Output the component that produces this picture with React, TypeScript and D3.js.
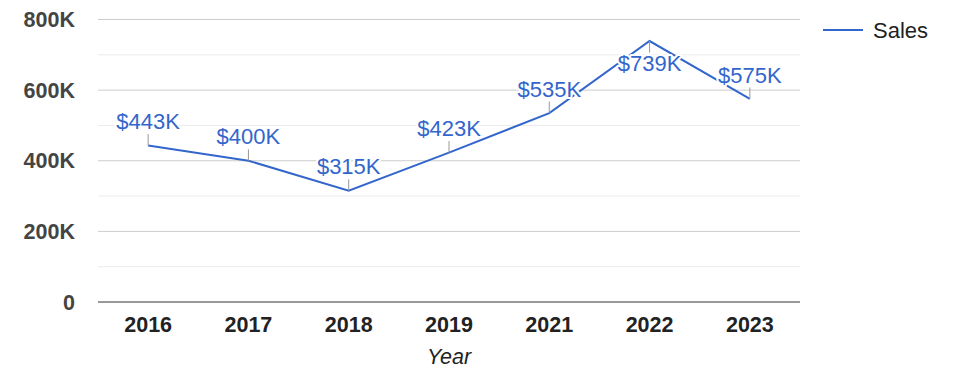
import React from "react";
import * as d3 from "d3";

const years = ["2016", "2017", "2018", "2019", "2021", "2022", "2023"];
const sales = [443000, 400000, 315000, 423000, 535000, 739000, 575000];
const yTicks = [0, 200000, 400000, 600000, 800000];
const yMinorTicks = [100000, 300000, 500000, 700000];
const seriesName = "Sales";
const xTitle = "Year";

const W = 975, H = 378;
const left = 98, right = 800, top = 19.5, bottom = 302;
const blue = "#3366cc";
const font = "'Liberation Sans', Arial, sans-serif";

export default function App() {
  const x = d3.scalePoint<string>().domain(years).range([left, right]).padding(0.5);
  const y = d3.scaleLinear().domain([0, 800000]).range([bottom, top]);
  const line = d3.line<number>().x((_, i) => x(years[i])!).y((d) => y(d));
  const fmtAxis = (v: number) => (v === 0 ? "0" : `${v / 1000}K`);
  const fmtLabel = (v: number) => `$${Math.round(v / 1000)}K`;
  const halo = { stroke: "#fff", strokeWidth: 4, paintOrder: "stroke" as const, strokeLinejoin: "round" as const };
  return (
    <svg width={W} height={H} style={{ position: "absolute", left: 0, top: 0, fontFamily: font }}>
      {yMinorTicks.map((t) => (
        <line key={"m" + t} x1={left} x2={right} y1={y(t)} y2={y(t)} stroke="#ebebeb" strokeWidth={1} />
      ))}
      {yTicks.filter((t) => t !== 0).map((t) => (
        <line key={"g" + t} x1={left} x2={right} y1={y(t)} y2={y(t)} stroke="#cccccc" strokeWidth={1} />
      ))}
      {yTicks.map((t) => (
        <text key={"yl" + t} x={75} y={y(t)} dy="0.35em" textAnchor="end" fontSize={21.5} fontWeight="bold" fill="#444">
          {fmtAxis(t)}
        </text>
      ))}
      <line x1={left} x2={right} y1={y(0)} y2={y(0)} stroke="#333" strokeWidth={1} />
      {years.map((yr) => (
        <text key={"xl" + yr} x={x(yr)} y={331.5} textAnchor="middle" fontSize={21.5} fontWeight="bold" fill="#222">
          {yr}
        </text>
      ))}
      <text x={(left + right) / 2} y={363.5} textAnchor="middle" fontSize={21.5} fontStyle="italic" fill="#222">
        {xTitle}
      </text>
      <path d={line(sales) || ""} fill="none" stroke={blue} strokeWidth={2} />
      {sales.map((v, i) => {
        const px = x(years[i])!;
        const py = y(v);
        const below = v === d3.max(sales);
        return (
          <g key={"lab" + i}>
            <text x={px} y={below ? py + 30 : py - 16.3} textAnchor="middle" fontSize={22} fill={blue} style={halo}>
              {fmtLabel(v)}
            </text>
            <line x1={px} x2={px} y1={py} y2={below ? py + 11.5 : py - 11.5} stroke="#999" strokeWidth={1} />
          </g>
        );
      })}
      <line x1={823} x2={863} y1={30} y2={30} stroke={blue} strokeWidth={2} />
      <text x={873} y={30} dy="0.35em" fontSize={22} fill="#222">
        {seriesName}
      </text>
    </svg>
  );
}
